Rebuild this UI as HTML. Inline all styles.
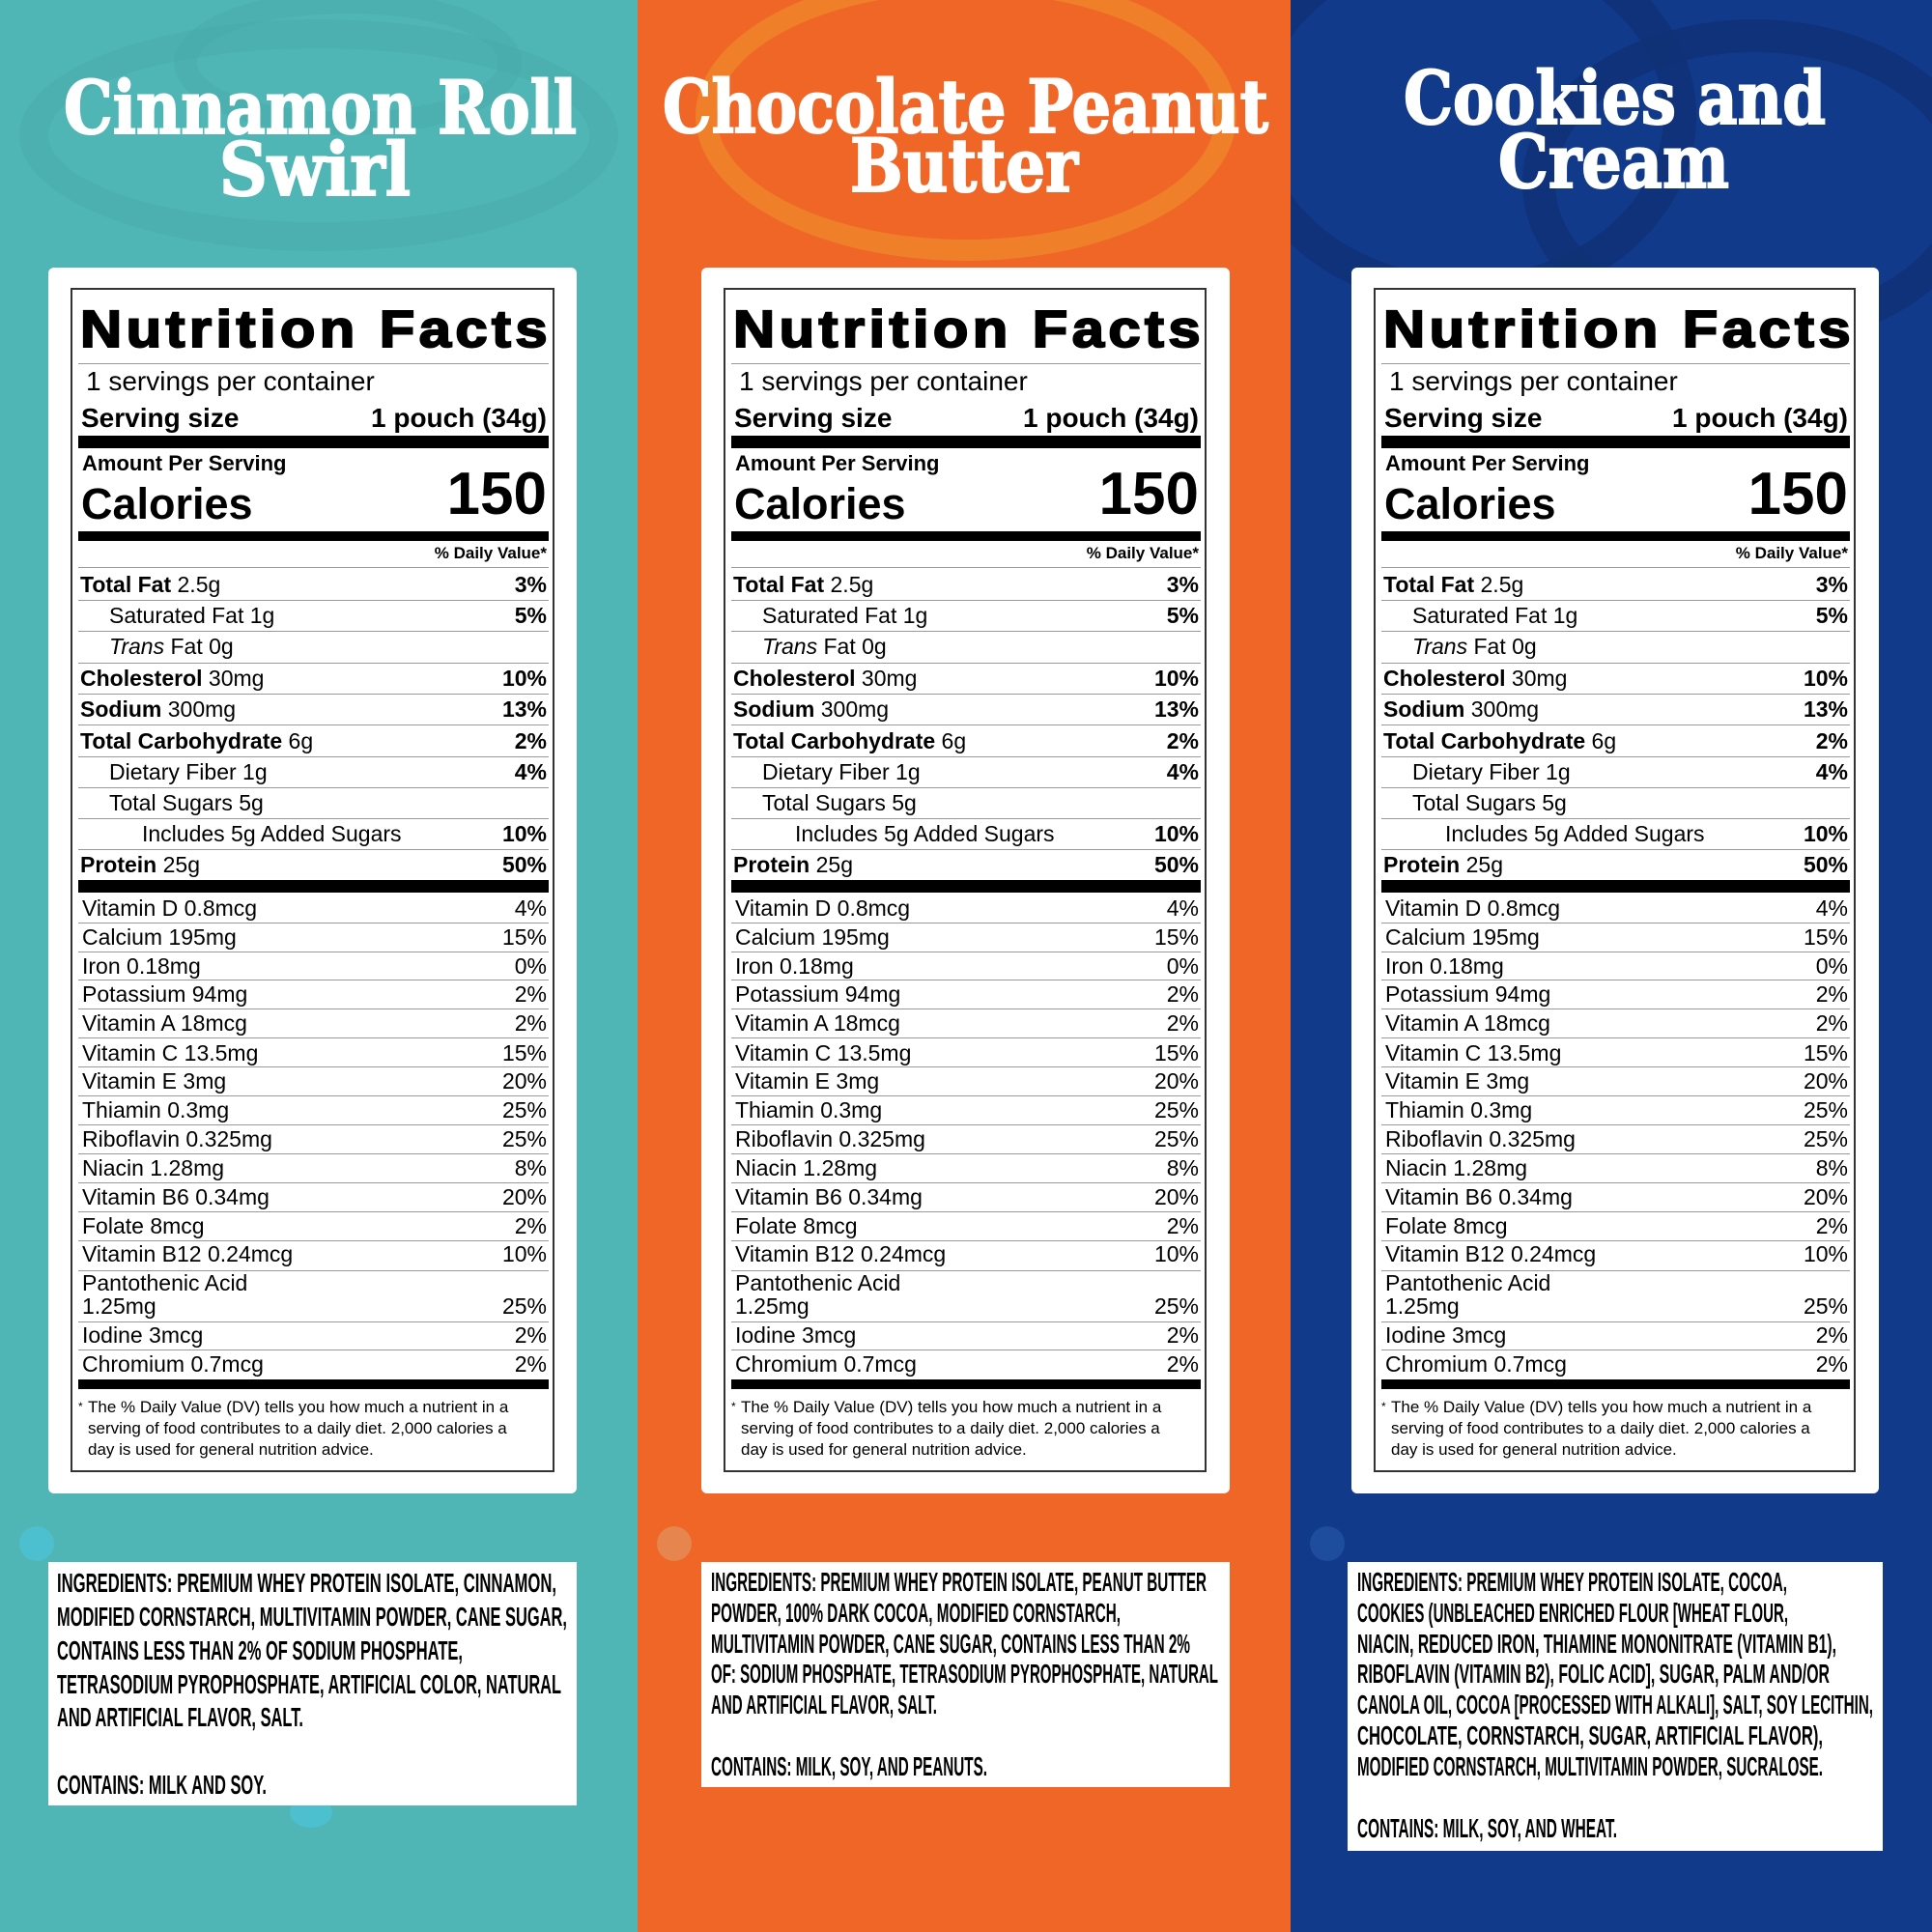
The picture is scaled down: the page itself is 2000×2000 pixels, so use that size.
<!DOCTYPE html>
<html><head><meta charset="utf-8">
<style>
*{margin:0;padding:0;box-sizing:border-box}
body{width:2000px;height:2000px;position:relative;overflow:hidden;font-family:"Liberation Sans",Arial,sans-serif;color:#000}
.bg{position:absolute;top:0;height:2000px;overflow:hidden}
.deco{position:absolute;border-radius:50%}
.title{position:absolute;color:#fff;font-family:"DejaVu Serif","Liberation Serif",serif;font-weight:bold;font-size:76px;line-height:80px;white-space:nowrap;margin-top:-40px;-webkit-text-stroke:2px #fff}
.fit span{display:inline-block;transform-origin:0 50%;white-space:nowrap}
.card{position:absolute;background:#fff;border-radius:6px}
.lab{position:absolute;border:2px solid #333;background:#fff}
.r{position:absolute;left:6px;right:4px;height:30px;line-height:30px;margin-top:-15px;font-size:23px;padding-left:2px;white-space:nowrap}
.r .p{position:absolute;right:2px;top:0}
.v{padding-left:4px}
.l{position:absolute;left:6px;right:4px;height:1px;background:#999}
.bar{position:absolute;left:6px;right:4px;background:#000}
.nf{position:absolute;left:8px;top:41px;height:60px;line-height:60px;margin-top:-30px;font-size:54px;font-weight:900;width:488px;letter-spacing:4px;-webkit-text-stroke:2px #000}
.fn{position:absolute;left:16px;font-size:17px;line-height:21px;white-space:nowrap}
.ing{position:absolute;background:#fff}
.il{position:absolute;height:36px;line-height:36px;margin-top:-18px;font-family:"Liberation Sans Narrow","Liberation Sans",sans-serif;font-weight:bold;font-size:28px;white-space:nowrap}
</style></head><body>

<div class="bg" style="left:0;width:660px;background:#4fb6b5">
 <div class="deco" style="left:20px;top:20px;width:620px;height:240px;border:30px solid #49abab;opacity:.6"></div>
 <div class="deco" style="left:180px;top:-10px;width:360px;height:150px;border:24px solid #49abab;opacity:.6"></div>
 <div class="deco" style="left:20px;top:1580px;width:36px;height:36px;background:#4cc0cf"></div>
 <div class="deco" style="left:300px;top:1860px;width:44px;height:32px;background:#4cc0cf"></div>
</div>
<div class="bg" style="left:660px;width:676px;background:#ef6627">
 <div class="deco" style="left:60px;top:-30px;width:560px;height:300px;border:22px solid #f08a2a;opacity:.7"></div>
 <div class="deco" style="left:20px;top:1580px;width:36px;height:36px;background:#e6854d"></div>
</div>
<div class="bg" style="left:1336px;width:664px;background:#123a8a">
 <div class="deco" style="left:-60px;top:-80px;width:480px;height:400px;border:34px solid #0f3175;opacity:.8"></div>
 <div class="deco" style="left:240px;top:20px;width:480px;height:340px;border:34px solid #0f3175;opacity:.8"></div>
 <div class="deco" style="left:20px;top:1580px;width:36px;height:36px;background:#1e4d9e"></div>
</div>

<div class="title fit" style="left:66px;top:112px;width:531px"><span>Cinnamon Roll</span></div>
<div class="title fit" style="left:227px;top:176px;width:198px"><span>Swirl</span></div>
<div class="title fit" style="left:686px;top:111px;width:627px"><span>Chocolate Peanut</span></div>
<div class="title fit" style="left:880px;top:172px;width:236px"><span>Butter</span></div>
<div class="title fit" style="left:1453px;top:102px;width:437px"><span>Cookies and</span></div>
<div class="title fit" style="left:1551px;top:168px;width:239px"><span>Cream</span></div>

<div class="card" style="left:50px;top:277px;width:547px;height:1269px"></div>
<div class="card" style="left:726px;top:277px;width:547px;height:1269px"></div>
<div class="card" style="left:1399px;top:277px;width:546px;height:1269px"></div>

<!-- LABEL 1 -->
<div class="lab" style="left:73px;top:298px;width:501px;height:1226px">
<div class="nf fit"><span>Nutrition Facts</span></div>
<div class="l" style="top:76px"></div>
<div class="r" style="top:95px;font-size:28px;padding-left:8px">1 servings per container</div>
<div class="r" style="top:133px;font-size:28px;font-weight:bold;padding-left:3px">Serving size<span class="p">1 pouch (34g)</span></div>
<div class="bar" style="top:151px;height:13px"></div>
<div class="r" style="top:180px;font-size:22px;font-weight:bold;padding-left:4px">Amount Per Serving</div>
<div class="r" style="top:222px;height:50px;line-height:50px;margin-top:-25px;font-size:45px;font-weight:bold;padding-left:3px">Calories</div>
<div class="r" style="top:212px;height:66px;line-height:66px;margin-top:-33px;font-size:62px;font-weight:bold"><span class="p">150</span></div>
<div class="bar" style="top:250px;height:10px"></div>
<div class="r" style="top:273px;font-size:17px;font-weight:bold"><span class="p">% Daily Value*</span></div>
<div class="l" style="top:287px"></div>
<div class="r" style="top:305px"><b>Total Fat</b> 2.5g<span class="p"><b>3%</b></span></div>
<div class="l" style="top:321px"></div>
<div class="r" style="top:337px;padding-left:32px">Saturated Fat 1g<span class="p"><b>5%</b></span></div>
<div class="l" style="top:353px"></div>
<div class="r" style="top:369px;padding-left:32px"><i>Trans</i> Fat 0g</div>
<div class="l" style="top:386px"></div>
<div class="r" style="top:402px"><b>Cholesterol</b> 30mg<span class="p"><b>10%</b></span></div>
<div class="l" style="top:418px"></div>
<div class="r" style="top:434px"><b>Sodium</b> 300mg<span class="p"><b>13%</b></span></div>
<div class="l" style="top:450px"></div>
<div class="r" style="top:467px"><b>Total Carbohydrate</b> 6g<span class="p"><b>2%</b></span></div>
<div class="l" style="top:483px"></div>
<div class="r" style="top:499px;padding-left:32px">Dietary Fiber 1g<span class="p"><b>4%</b></span></div>
<div class="l" style="top:515px"></div>
<div class="r" style="top:531px;padding-left:32px">Total Sugars 5g</div>
<div class="l" style="top:547px"></div>
<div class="r" style="top:563px;padding-left:66px">Includes 5g Added Sugars<span class="p"><b>10%</b></span></div>
<div class="l" style="top:579px"></div>
<div class="r" style="top:595px"><b>Protein</b> 25g<span class="p"><b>50%</b></span></div>
<div class="bar" style="top:611px;height:13px"></div>
<div class="r v" style="top:640px">Vitamin D 0.8mcg<span class="p">4%</span></div>
<div class="l" style="top:655px"></div>
<div class="r v" style="top:670px">Calcium 195mg<span class="p">15%</span></div>
<div class="l" style="top:685px"></div>
<div class="r v" style="top:700px">Iron 0.18mg<span class="p">0%</span></div>
<div class="l" style="top:714px"></div>
<div class="r v" style="top:729px">Potassium 94mg<span class="p">2%</span></div>
<div class="l" style="top:744px"></div>
<div class="r v" style="top:759px">Vitamin A 18mcg<span class="p">2%</span></div>
<div class="l" style="top:774px"></div>
<div class="r v" style="top:790px">Vitamin C 13.5mg<span class="p">15%</span></div>
<div class="l" style="top:804px"></div>
<div class="r v" style="top:819px">Vitamin E 3mg<span class="p">20%</span></div>
<div class="l" style="top:834px"></div>
<div class="r v" style="top:849px">Thiamin 0.3mg<span class="p">25%</span></div>
<div class="l" style="top:864px"></div>
<div class="r v" style="top:879px">Riboflavin 0.325mg<span class="p">25%</span></div>
<div class="l" style="top:894px"></div>
<div class="r v" style="top:909px">Niacin 1.28mg<span class="p">8%</span></div>
<div class="l" style="top:924px"></div>
<div class="r v" style="top:939px">Vitamin B6 0.34mg<span class="p">20%</span></div>
<div class="l" style="top:954px"></div>
<div class="r v" style="top:969px">Folate 8mcg<span class="p">2%</span></div>
<div class="l" style="top:984px"></div>
<div class="r v" style="top:998px">Vitamin B12 0.24mcg<span class="p">10%</span></div>
<div class="l" style="top:1015px"></div>
<div class="r v" style="top:1028px">Pantothenic Acid</div>
<div class="r v" style="top:1052px">1.25mg<span class="p">25%</span></div>
<div class="l" style="top:1068px"></div>
<div class="r v" style="top:1082px">Iodine 3mcg<span class="p">2%</span></div>
<div class="l" style="top:1097px"></div>
<div class="r v" style="top:1112px">Chromium 0.7mcg<span class="p">2%</span></div>
<div class="bar" style="top:1128px;height:10px"></div>
<div class="fn" style="left:6px;top:1146px;font-size:12px">*</div>
<div class="fn" style="top:1146px">The % Daily Value (DV) tells you how much a nutrient in a</div>
<div class="fn" style="top:1168px">serving of food contributes to a daily diet. 2,000 calories a</div>
<div class="fn" style="top:1190px">day is used for general nutrition advice.</div>
</div>

<!-- LABEL 2 -->
<div class="lab" style="left:749px;top:298px;width:500px;height:1226px">
<div class="nf fit"><span>Nutrition Facts</span></div>
<div class="l" style="top:76px"></div>
<div class="r" style="top:95px;font-size:28px;padding-left:8px">1 servings per container</div>
<div class="r" style="top:133px;font-size:28px;font-weight:bold;padding-left:3px">Serving size<span class="p">1 pouch (34g)</span></div>
<div class="bar" style="top:151px;height:13px"></div>
<div class="r" style="top:180px;font-size:22px;font-weight:bold;padding-left:4px">Amount Per Serving</div>
<div class="r" style="top:222px;height:50px;line-height:50px;margin-top:-25px;font-size:45px;font-weight:bold;padding-left:3px">Calories</div>
<div class="r" style="top:212px;height:66px;line-height:66px;margin-top:-33px;font-size:62px;font-weight:bold"><span class="p">150</span></div>
<div class="bar" style="top:250px;height:10px"></div>
<div class="r" style="top:273px;font-size:17px;font-weight:bold"><span class="p">% Daily Value*</span></div>
<div class="l" style="top:287px"></div>
<div class="r" style="top:305px"><b>Total Fat</b> 2.5g<span class="p"><b>3%</b></span></div>
<div class="l" style="top:321px"></div>
<div class="r" style="top:337px;padding-left:32px">Saturated Fat 1g<span class="p"><b>5%</b></span></div>
<div class="l" style="top:353px"></div>
<div class="r" style="top:369px;padding-left:32px"><i>Trans</i> Fat 0g</div>
<div class="l" style="top:386px"></div>
<div class="r" style="top:402px"><b>Cholesterol</b> 30mg<span class="p"><b>10%</b></span></div>
<div class="l" style="top:418px"></div>
<div class="r" style="top:434px"><b>Sodium</b> 300mg<span class="p"><b>13%</b></span></div>
<div class="l" style="top:450px"></div>
<div class="r" style="top:467px"><b>Total Carbohydrate</b> 6g<span class="p"><b>2%</b></span></div>
<div class="l" style="top:483px"></div>
<div class="r" style="top:499px;padding-left:32px">Dietary Fiber 1g<span class="p"><b>4%</b></span></div>
<div class="l" style="top:515px"></div>
<div class="r" style="top:531px;padding-left:32px">Total Sugars 5g</div>
<div class="l" style="top:547px"></div>
<div class="r" style="top:563px;padding-left:66px">Includes 5g Added Sugars<span class="p"><b>10%</b></span></div>
<div class="l" style="top:579px"></div>
<div class="r" style="top:595px"><b>Protein</b> 25g<span class="p"><b>50%</b></span></div>
<div class="bar" style="top:611px;height:13px"></div>
<div class="r v" style="top:640px">Vitamin D 0.8mcg<span class="p">4%</span></div>
<div class="l" style="top:655px"></div>
<div class="r v" style="top:670px">Calcium 195mg<span class="p">15%</span></div>
<div class="l" style="top:685px"></div>
<div class="r v" style="top:700px">Iron 0.18mg<span class="p">0%</span></div>
<div class="l" style="top:714px"></div>
<div class="r v" style="top:729px">Potassium 94mg<span class="p">2%</span></div>
<div class="l" style="top:744px"></div>
<div class="r v" style="top:759px">Vitamin A 18mcg<span class="p">2%</span></div>
<div class="l" style="top:774px"></div>
<div class="r v" style="top:790px">Vitamin C 13.5mg<span class="p">15%</span></div>
<div class="l" style="top:804px"></div>
<div class="r v" style="top:819px">Vitamin E 3mg<span class="p">20%</span></div>
<div class="l" style="top:834px"></div>
<div class="r v" style="top:849px">Thiamin 0.3mg<span class="p">25%</span></div>
<div class="l" style="top:864px"></div>
<div class="r v" style="top:879px">Riboflavin 0.325mg<span class="p">25%</span></div>
<div class="l" style="top:894px"></div>
<div class="r v" style="top:909px">Niacin 1.28mg<span class="p">8%</span></div>
<div class="l" style="top:924px"></div>
<div class="r v" style="top:939px">Vitamin B6 0.34mg<span class="p">20%</span></div>
<div class="l" style="top:954px"></div>
<div class="r v" style="top:969px">Folate 8mcg<span class="p">2%</span></div>
<div class="l" style="top:984px"></div>
<div class="r v" style="top:998px">Vitamin B12 0.24mcg<span class="p">10%</span></div>
<div class="l" style="top:1015px"></div>
<div class="r v" style="top:1028px">Pantothenic Acid</div>
<div class="r v" style="top:1052px">1.25mg<span class="p">25%</span></div>
<div class="l" style="top:1068px"></div>
<div class="r v" style="top:1082px">Iodine 3mcg<span class="p">2%</span></div>
<div class="l" style="top:1097px"></div>
<div class="r v" style="top:1112px">Chromium 0.7mcg<span class="p">2%</span></div>
<div class="bar" style="top:1128px;height:10px"></div>
<div class="fn" style="left:6px;top:1146px;font-size:12px">*</div>
<div class="fn" style="top:1146px">The % Daily Value (DV) tells you how much a nutrient in a</div>
<div class="fn" style="top:1168px">serving of food contributes to a daily diet. 2,000 calories a</div>
<div class="fn" style="top:1190px">day is used for general nutrition advice.</div>
</div>

<!-- LABEL 3 -->
<div class="lab" style="left:1422px;top:298px;width:499px;height:1226px">
<div class="nf fit"><span>Nutrition Facts</span></div>
<div class="l" style="top:76px"></div>
<div class="r" style="top:95px;font-size:28px;padding-left:8px">1 servings per container</div>
<div class="r" style="top:133px;font-size:28px;font-weight:bold;padding-left:3px">Serving size<span class="p">1 pouch (34g)</span></div>
<div class="bar" style="top:151px;height:13px"></div>
<div class="r" style="top:180px;font-size:22px;font-weight:bold;padding-left:4px">Amount Per Serving</div>
<div class="r" style="top:222px;height:50px;line-height:50px;margin-top:-25px;font-size:45px;font-weight:bold;padding-left:3px">Calories</div>
<div class="r" style="top:212px;height:66px;line-height:66px;margin-top:-33px;font-size:62px;font-weight:bold"><span class="p">150</span></div>
<div class="bar" style="top:250px;height:10px"></div>
<div class="r" style="top:273px;font-size:17px;font-weight:bold"><span class="p">% Daily Value*</span></div>
<div class="l" style="top:287px"></div>
<div class="r" style="top:305px"><b>Total Fat</b> 2.5g<span class="p"><b>3%</b></span></div>
<div class="l" style="top:321px"></div>
<div class="r" style="top:337px;padding-left:32px">Saturated Fat 1g<span class="p"><b>5%</b></span></div>
<div class="l" style="top:353px"></div>
<div class="r" style="top:369px;padding-left:32px"><i>Trans</i> Fat 0g</div>
<div class="l" style="top:386px"></div>
<div class="r" style="top:402px"><b>Cholesterol</b> 30mg<span class="p"><b>10%</b></span></div>
<div class="l" style="top:418px"></div>
<div class="r" style="top:434px"><b>Sodium</b> 300mg<span class="p"><b>13%</b></span></div>
<div class="l" style="top:450px"></div>
<div class="r" style="top:467px"><b>Total Carbohydrate</b> 6g<span class="p"><b>2%</b></span></div>
<div class="l" style="top:483px"></div>
<div class="r" style="top:499px;padding-left:32px">Dietary Fiber 1g<span class="p"><b>4%</b></span></div>
<div class="l" style="top:515px"></div>
<div class="r" style="top:531px;padding-left:32px">Total Sugars 5g</div>
<div class="l" style="top:547px"></div>
<div class="r" style="top:563px;padding-left:66px">Includes 5g Added Sugars<span class="p"><b>10%</b></span></div>
<div class="l" style="top:579px"></div>
<div class="r" style="top:595px"><b>Protein</b> 25g<span class="p"><b>50%</b></span></div>
<div class="bar" style="top:611px;height:13px"></div>
<div class="r v" style="top:640px">Vitamin D 0.8mcg<span class="p">4%</span></div>
<div class="l" style="top:655px"></div>
<div class="r v" style="top:670px">Calcium 195mg<span class="p">15%</span></div>
<div class="l" style="top:685px"></div>
<div class="r v" style="top:700px">Iron 0.18mg<span class="p">0%</span></div>
<div class="l" style="top:714px"></div>
<div class="r v" style="top:729px">Potassium 94mg<span class="p">2%</span></div>
<div class="l" style="top:744px"></div>
<div class="r v" style="top:759px">Vitamin A 18mcg<span class="p">2%</span></div>
<div class="l" style="top:774px"></div>
<div class="r v" style="top:790px">Vitamin C 13.5mg<span class="p">15%</span></div>
<div class="l" style="top:804px"></div>
<div class="r v" style="top:819px">Vitamin E 3mg<span class="p">20%</span></div>
<div class="l" style="top:834px"></div>
<div class="r v" style="top:849px">Thiamin 0.3mg<span class="p">25%</span></div>
<div class="l" style="top:864px"></div>
<div class="r v" style="top:879px">Riboflavin 0.325mg<span class="p">25%</span></div>
<div class="l" style="top:894px"></div>
<div class="r v" style="top:909px">Niacin 1.28mg<span class="p">8%</span></div>
<div class="l" style="top:924px"></div>
<div class="r v" style="top:939px">Vitamin B6 0.34mg<span class="p">20%</span></div>
<div class="l" style="top:954px"></div>
<div class="r v" style="top:969px">Folate 8mcg<span class="p">2%</span></div>
<div class="l" style="top:984px"></div>
<div class="r v" style="top:998px">Vitamin B12 0.24mcg<span class="p">10%</span></div>
<div class="l" style="top:1015px"></div>
<div class="r v" style="top:1028px">Pantothenic Acid</div>
<div class="r v" style="top:1052px">1.25mg<span class="p">25%</span></div>
<div class="l" style="top:1068px"></div>
<div class="r v" style="top:1082px">Iodine 3mcg<span class="p">2%</span></div>
<div class="l" style="top:1097px"></div>
<div class="r v" style="top:1112px">Chromium 0.7mcg<span class="p">2%</span></div>
<div class="bar" style="top:1128px;height:10px"></div>
<div class="fn" style="left:6px;top:1146px;font-size:12px">*</div>
<div class="fn" style="top:1146px">The % Daily Value (DV) tells you how much a nutrient in a</div>
<div class="fn" style="top:1168px">serving of food contributes to a daily diet. 2,000 calories a</div>
<div class="fn" style="top:1190px">day is used for general nutrition advice.</div>
</div>

<!-- INGREDIENTS -->
<div class="ing" style="left:50px;top:1617px;width:547px;height:252px"></div>
<div class="ing" style="left:726px;top:1617px;width:547px;height:233px"></div>
<div class="ing" style="left:1395px;top:1617px;width:554px;height:299px"></div>

<div class="il fit" style="left:59px;top:1639px;width:517px"><span>INGREDIENTS: PREMIUM WHEY PROTEIN ISOLATE, CINNAMON,</span></div>
<div class="il fit" style="left:59px;top:1674px;width:528px"><span>MODIFIED CORNSTARCH, MULTIVITAMIN POWDER, CANE SUGAR,</span></div>
<div class="il fit" style="left:59px;top:1709px;width:420px"><span>CONTAINS LESS THAN 2% OF SODIUM PHOSPHATE,</span></div>
<div class="il fit" style="left:59px;top:1744px;width:522px"><span>TETRASODIUM PYROPHOSPHATE, ARTIFICIAL COLOR, NATURAL</span></div>
<div class="il fit" style="left:59px;top:1778px;width:255px"><span>AND ARTIFICIAL FLAVOR, SALT.</span></div>
<div class="il fit" style="left:59px;top:1848px;width:217px"><span>CONTAINS: MILK AND SOY.</span></div>

<div class="il fit" style="left:736px;top:1638px;width:513px"><span>INGREDIENTS: PREMIUM WHEY PROTEIN ISOLATE, PEANUT BUTTER</span></div>
<div class="il fit" style="left:736px;top:1670px;width:424px"><span>POWDER, 100% DARK COCOA, MODIFIED CORNSTARCH,</span></div>
<div class="il fit" style="left:736px;top:1702px;width:496px"><span>MULTIVITAMIN POWDER, CANE SUGAR, CONTAINS LESS THAN 2%</span></div>
<div class="il fit" style="left:736px;top:1733px;width:525px"><span>OF: SODIUM PHOSPHATE, TETRASODIUM PYROPHOSPHATE, NATURAL</span></div>
<div class="il fit" style="left:736px;top:1765px;width:234px"><span>AND ARTIFICIAL FLAVOR, SALT.</span></div>
<div class="il fit" style="left:736px;top:1829px;width:286px"><span>CONTAINS: MILK, SOY, AND PEANUTS.</span></div>

<div class="il fit" style="left:1405px;top:1638px;width:445px"><span>INGREDIENTS: PREMIUM WHEY PROTEIN ISOLATE, COCOA,</span></div>
<div class="il fit" style="left:1405px;top:1670px;width:446px"><span>COOKIES (UNBLEACHED ENRICHED FLOUR [WHEAT FLOUR,</span></div>
<div class="il fit" style="left:1405px;top:1702px;width:496px"><span>NIACIN, REDUCED IRON, THIAMINE MONONITRATE (VITAMIN B1),</span></div>
<div class="il fit" style="left:1405px;top:1733px;width:489px"><span>RIBOFLAVIN (VITAMIN B2), FOLIC ACID], SUGAR, PALM AND/OR</span></div>
<div class="il fit" style="left:1405px;top:1765px;width:534px"><span>CANOLA OIL, COCOA [PROCESSED WITH ALKALI], SALT, SOY LECITHIN,</span></div>
<div class="il fit" style="left:1405px;top:1797px;width:482px"><span>CHOCOLATE, CORNSTARCH, SUGAR, ARTIFICIAL FLAVOR),</span></div>
<div class="il fit" style="left:1405px;top:1829px;width:482px"><span>MODIFIED CORNSTARCH, MULTIVITAMIN POWDER, SUCRALOSE.</span></div>
<div class="il fit" style="left:1405px;top:1893px;width:269px"><span>CONTAINS: MILK, SOY, AND WHEAT.</span></div>

<script>
document.querySelectorAll('.fit').forEach(function(d){
  var s=d.querySelector('span');var t=parseFloat(d.style.width)||d.clientWidth;
  var w=s.getBoundingClientRect().width; if(w>0){s.style.transform='scaleX('+(t/w)+')';}
});
</script>
</body></html>
